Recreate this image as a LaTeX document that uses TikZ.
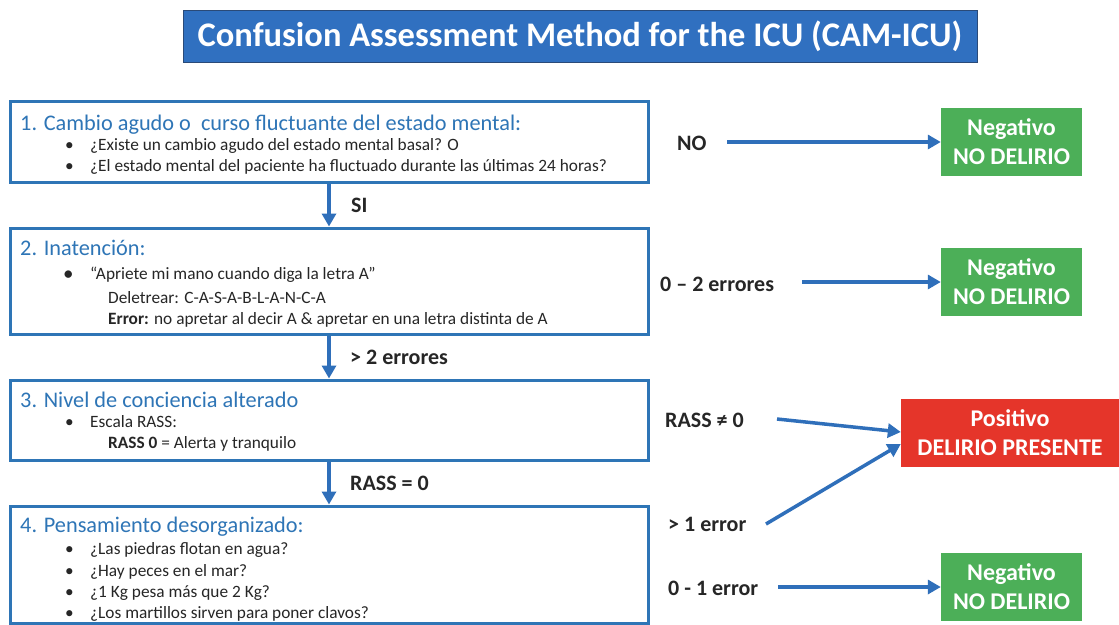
\documentclass[tikz,border=0pt]{standalone}
\usepackage{fontspec}
\setmainfont{Carlito}
\usetikzlibrary{arrows.meta}
\definecolor{tblue}{HTML}{3070C0}
\definecolor{tborder}{HTML}{2A4A78}
\definecolor{bblue}{HTML}{2E75B6}
\definecolor{ablue}{HTML}{2F6FBA}
\definecolor{gbox}{HTML}{4CAF58}
\definecolor{rbox}{HTML}{E5352A}
\definecolor{txt}{HTML}{262626}
\begin{document}
\begin{tikzpicture}[x=1pt,y=-1pt,
 stepbox/.style={draw=bblue,line width=3pt,minimum width=638pt,minimum height=#1,inner sep=0pt},
 head/.style={anchor=base west,inner sep=0pt,text=bblue,font=\fontsize{22.3}{26}\selectfont},
 body/.style={anchor=base west,inner sep=0pt,text=txt,font=\fontsize{17.3}{20}\selectfont},
 lab/.style={anchor=base west,inner sep=0pt,text=txt,font=\bfseries\fontsize{22}{26}\selectfont},
 res/.style={minimum width=141pt,minimum height=68pt,inner sep=0pt,text=white,align=center,font=\bfseries\fontsize{24}{29}\selectfont},
 arr/.style={draw=ablue,line width=3.5pt,-{Triangle[length=13pt,width=14pt]}},
]
\useasboundingbox (0,0) rectangle (1119,624);
\fill[white] (0,0) rectangle (1119,624);
% title
\node[draw=tborder,line width=1pt,fill=tblue,minimum width=794pt,minimum height=52pt,inner sep=0pt,text=white,font=\bfseries\fontsize{34.5}{40}\selectfont] (title) at (580,36) {Confusion Assessment Method for the ICU (CAM-ICU)};
% step boxes
\node[stepbox=81pt] (b1) at (329,141.5) {};
\node[stepbox=106pt] (b2) at (329,281) {};
\node[stepbox=80pt] (b3) at (329,420) {};
\node[stepbox=117pt] (b4) at (329,564.5) {};
% box 1 text
\node[head] (h1) at (20,130) {1. Cambio agudo o\ \ curso fluctuante del estado mental:};
\node[body] (p11) at (65,150) {•};
\node[body] (t11) at (90,150) {¿Existe un cambio agudo del estado mental basal? O};
\node[body] (p12) at (65,171) {•};
\node[body] (t12) at (90,171) {¿El estado mental del paciente ha fluctuado durante las últimas 24 horas?};
% box 2 text
\node[head] (h2) at (20,255) {2. Inatención:};
\node[body,font=\fontsize{21}{22}\selectfont] (p21) at (63,280) {•};
\node[body] (t21) at (90,279) {“Apriete mi mano cuando diga la letra A”};
\node[body] (t22) at (108,303) {Deletrear: C-A-S-A-B-L-A-N-C-A};
\node[body] (t23) at (108,324) {\textbf{Error:} no apretar al decir A \& apretar en una letra distinta de A};
% box 3 text
\node[head] (h3) at (20,407) {3. Nivel de conciencia alterado};
\node[body] (p31) at (65,427) {•};
\node[body] (t31) at (90,427) {Escala RASS:};
\node[body] (t32) at (108,448) {\textbf{RASS 0} = Alerta y tranquilo};
% box 4 text
\node[head] (h4) at (20,532) {4. Pensamiento desorganizado:};
\node[body] (p41) at (65,554) {•};
\node[body] (t41) at (90,554) {¿Las piedras flotan en agua?};
\node[body] (p42) at (65,576) {•};
\node[body] (t42) at (90,576) {¿Hay peces en el mar?};
\node[body] (p43) at (65,597) {•};
\node[body] (t43) at (90,597) {¿1 Kg pesa más que 2 Kg?};
\node[body] (p44) at (65,618) {•};
\node[body] (t44) at (90,618) {¿Los martillos sirven para poner clavos?};
% vertical arrows and labels
\draw[arr] (b1.south) -- (b2.north);
\draw[arr] (b2.south) -- (b3.north);
\draw[arr] (b3.south) -- (b4.north);
\node[lab] (lsi) at (351,212) {SI};
\node[lab] (l2e) at (350,364) {> 2 errores};
\node[lab] (lr0) at (350,490) {RASS = 0};
% result boxes
\node[res,fill=gbox] (g1) at (1011.5,142) {Negativo\\NO DELIRIO};
\node[res,fill=gbox] (g2) at (1011.5,282) {Negativo\\NO DELIRIO};
\node[res,fill=gbox] (g3) at (1011.5,587) {Negativo\\NO DELIRIO};
\node[res,fill=rbox,minimum width=218pt] (r1) at (1010,433) {Positivo\\DELIRIO PRESENTE};
% right labels
\node[lab] (lno) at (677,150) {NO};
\node[lab] (l02) at (660,291) {0 – 2 errores};
\node[lab] (lrn) at (665,427) {RASS ≠ 0};
\node[lab] (l1e) at (668,531) {> 1 error};
\node[lab] (l01) at (668,595) {0 - 1 error};
% arrow start points
\coordinate (sno) at (727,142);
\coordinate (s02) at (802,282);
\coordinate (srn) at (777,419);
\coordinate (s1e) at (766,524);
\coordinate (s01) at (778,587);
% right arrows
\draw[arr] (sno) -- (sno -| g1.west);
\draw[arr] (s02) -- (s02 -| g2.west);
\draw[arr] (srn) -- ([yshift=1pt]r1.west);
\draw[arr] (s1e) -- ([yshift=-11pt]r1.west);
\draw[arr] (s01) -- (s01 -| g3.west);
\end{tikzpicture}
\end{document}
